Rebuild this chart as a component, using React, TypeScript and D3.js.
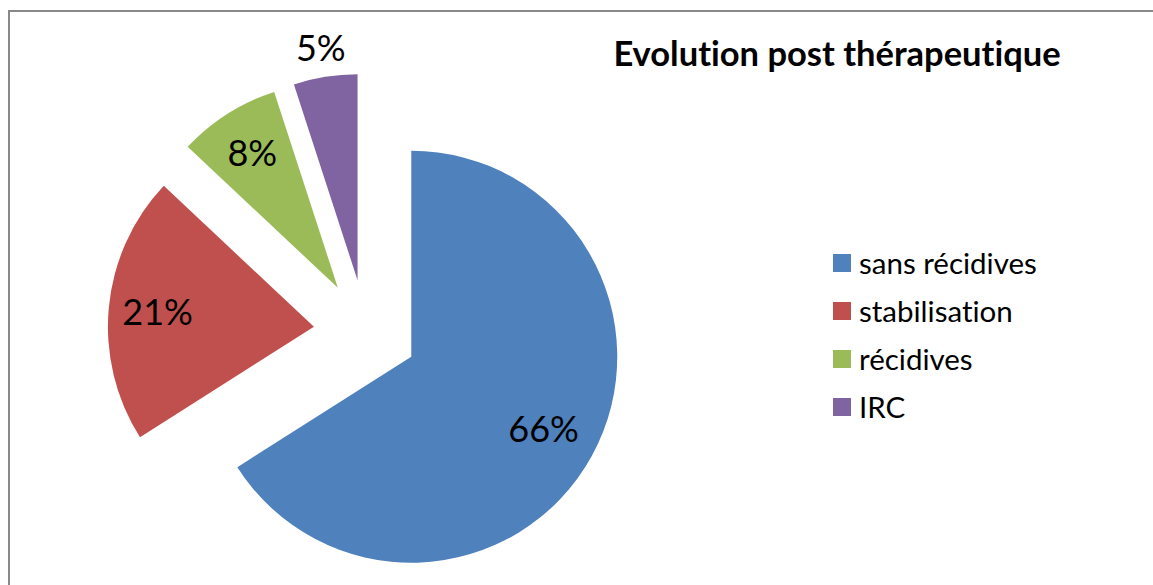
import React from "react";
import * as d3 from "d3";

const categories = ["sans récidives", "stabilisation", "récidives", "IRC"];
const values = [66, 21, 8, 5];
const labels = ["66%", "21%", "8%", "5%"];
const colors = ["#4F81BD", "#C0504D", "#9BBB59", "#8064A2"];
const title = "Evolution post thérapeutique";

// layout
const W = 1153;
const H = 585;
const CX = 365.7;
const CY = 331.7;
const R = 206;
const EXPLODE = 52;
const labelRadius = [0.733, 0.762, 0.775, 1.141];
const FONT = "Lato, 'Open Sans', sans-serif";

export default function App() {
  const pie = d3
    .pie<number>()
    .sort(null)
    .value((d) => d)
    .startAngle(0)
    .endAngle(2 * Math.PI);
  const arcs = pie(values);
  const arc = d3.arc<d3.PieArcDatum<number>>().innerRadius(0).outerRadius(R);

  const legendY = d3.scalePoint<string>().domain(categories).range([263, 407]);

  return (
    <svg
      width={W}
      height={H}
      style={{ position: "absolute", left: 0, top: 0, display: "block", fontVariantLigatures: "none" }}
      fontFamily={FONT}
    >
      <rect x={0} y={0} width={W} height={H} fill="#fff" />
      <rect x={9} y={11} width={W + 20} height={H + 20} fill="none" stroke="#898989" strokeWidth={2} />
      <g transform={`translate(${CX},${CY})`}>
        {arcs.map((a, i) => {
          const mid = (a.startAngle + a.endAngle) / 2;
          const ox = EXPLODE * Math.sin(mid);
          const oy = -EXPLODE * Math.cos(mid);
          const lr = R * labelRadius[i];
          const lx = lr * Math.sin(mid);
          const ly = -lr * Math.cos(mid);
          return (
            <g key={i} transform={`translate(${ox},${oy})`}>
              <path d={arc(a) || ""} fill={colors[i]} />
              <text
                x={lx}
                y={ly}
                dy="0.36em"
                textAnchor="middle"
                fontSize={36}
                fill="#000"
              >
                {labels[i]}
              </text>
            </g>
          );
        })}
      </g>
      <text x={837} y={66} textAnchor="middle" fontSize={34.5} fontWeight="bold" fill="#000">
        {title}
      </text>
      {categories.map((c, i) => {
        const y = legendY(c) as number;
        return (
          <g key={c}>
            <rect x={833} y={y - 9} width={18} height={18} fill={colors[i]} />
            <text x={859} y={y} dy="0.36em" fontSize={29.5} fill="#000">
              {c}
            </text>
          </g>
        );
      })}
    </svg>
  );
}
